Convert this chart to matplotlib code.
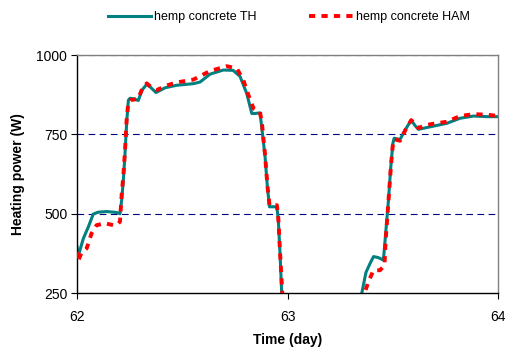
import numpy as np
import matplotlib
matplotlib.use("Agg")
import matplotlib.pyplot as plt

plt.rcParams['font.family'] = ['Liberation Sans', 'DejaVu Sans']

# hemp concrete TH (teal solid)
th_day = [62.0, 62.004, 62.030, 62.054, 62.077, 62.101, 62.141, 62.189, 62.204, 62.212,
          62.220, 62.228, 62.236, 62.244, 62.252, 62.270, 62.291, 62.309, 62.331, 62.347,
          62.375, 62.418, 62.474, 62.553, 62.584, 62.632, 62.695, 62.741, 62.774, 62.806,
          62.830, 62.846, 62.869, 62.877, 62.893, 62.904, 62.914, 62.925, 62.949, 62.956,
          62.964, 62.972, 62.978, 63.340, 63.352, 63.372, 63.392, 63.408, 63.430, 63.455,
          63.463, 63.479, 63.490, 63.500, 63.506, 63.534, 63.558, 63.587, 63.605, 63.621,
          63.677, 63.756, 63.819, 63.883, 63.950, 64.0]
th_power = [396, 362, 422, 459, 499, 505, 507, 504, 500, 543,
            606, 690, 790, 858, 864, 862, 857, 890, 908, 900,
            882, 897, 905, 910, 915, 940, 953, 952, 933, 879,
            816, 816, 818, 774, 680, 585, 522, 522, 522, 480,
            375, 249, 0, 0, 249, 315, 344, 365, 362, 354,
            417, 543, 648, 722, 738, 734, 764, 795, 778, 766,
            774, 785, 801, 808, 806, 806]

# hemp concrete HAM (red dotted)
ham_day = [62.0, 62.004, 62.020, 62.046, 62.069, 62.093, 62.133, 62.172, 62.190, 62.204,
           62.212, 62.220, 62.228, 62.236, 62.244, 62.252, 62.290, 62.310, 62.331, 62.350,
           62.379, 62.426, 62.466, 62.553, 62.632, 62.711, 62.759, 62.790, 62.814, 62.838,
           62.869, 62.879, 62.893, 62.904, 62.914, 62.949, 62.956, 62.964, 62.975, 62.980,
           63.355, 63.368, 63.384, 63.408, 63.439, 63.460, 63.466, 63.479, 63.490, 63.500,
           63.506, 63.534, 63.558, 63.587, 63.621, 63.650, 63.677, 63.756, 63.819, 63.883,
           63.950, 64.0]
ham_power = [380, 349, 375, 391, 438, 464, 470, 464, 465, 475,
             560, 620, 700, 800, 852, 858, 862, 895, 911, 900,
             890, 904, 913, 923, 950, 965, 958, 921, 874, 832,
             821, 780, 685, 590, 527, 527, 485, 380, 250, 0,
             0, 255, 286, 322, 322, 338, 420, 540, 645, 720,
             735, 730, 762, 795, 770, 778, 782, 790, 808, 814,
             812, 808]

fig = plt.figure(figsize=(5.05, 3.51), dpi=100)
ax = fig.add_axes([0.1525, 0.165, 0.834, 0.678])

for y in [500, 750, 1000]:
    ax.axhline(y, color='#000080', lw=0.8, dashes=(6, 4), zorder=1)

ax.plot(th_day, th_power, color='#008080', lw=2.2, label='hemp concrete TH', zorder=2)
ax.plot(ham_day, ham_power, color='#ff0000', lw=2.8, dashes=(1.6, 1.6),
        label='hemp concrete HAM', zorder=3)

ax.set_xlim(62, 64)
ax.set_ylim(250, 1000)
ax.set_xticks([62, 63, 64])
ax.set_yticks([250, 500, 750, 1000])
ax.tick_params(labelsize=10, length=4, width=0.8, direction='out')
ax.tick_params(axis='x', pad=8)
ax.tick_params(axis='y', pad=3)

ax.spines['left'].set_color('black')
ax.spines['bottom'].set_color('black')
ax.spines['top'].set_color('#808080')
ax.spines['right'].set_color('#808080')
for s in ax.spines.values():
    s.set_linewidth(1.0)

ax.set_xlabel('Time (day)', fontsize=10, fontweight='bold', labelpad=7)
ax.set_ylabel('Heating power (W)', fontsize=10, fontweight='bold', labelpad=8)

fig.legend(loc='upper center', bbox_to_anchor=(0.572, 1.0), ncol=2, frameon=False,
           fontsize=9, handlelength=3.5, columnspacing=4.2, handletextpad=0.25)

fig.savefig('out.png', dpi=100)
